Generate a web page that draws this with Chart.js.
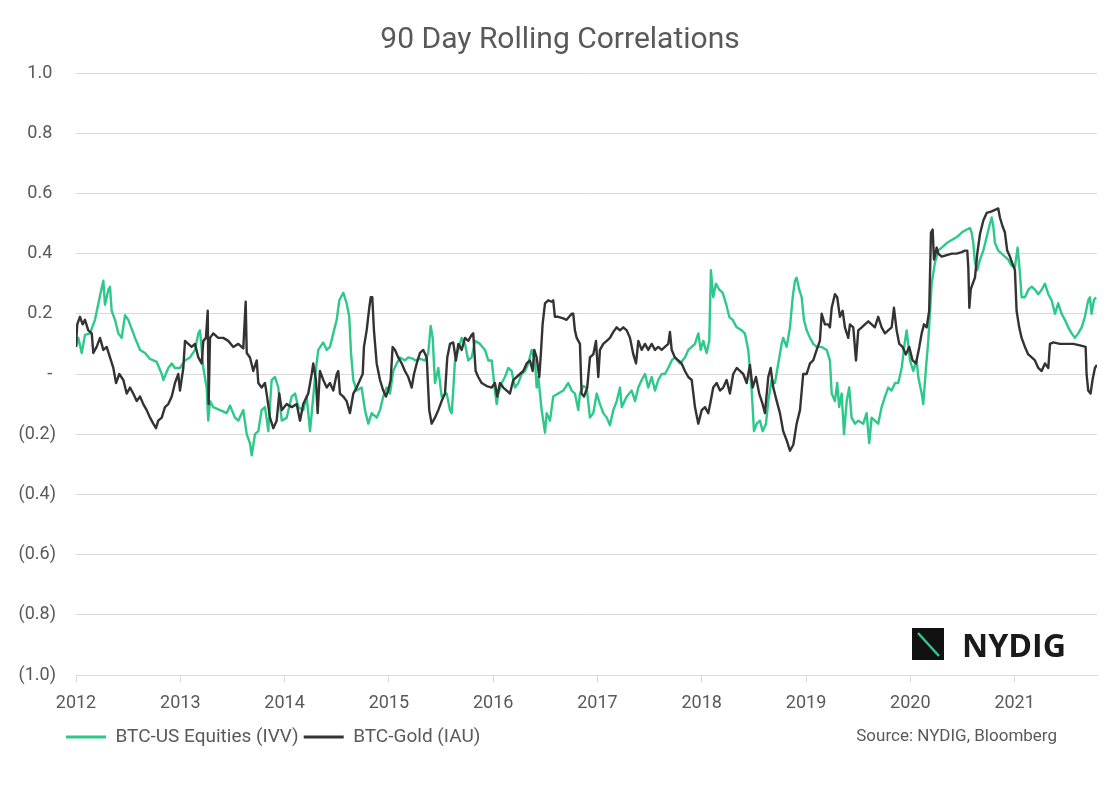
<!DOCTYPE html>
<html>
<head>
<meta charset="utf-8">
<script src="https://cdn.jsdelivr.net/npm/chart.js@4.4.0/dist/chart.umd.min.js"></script>
<style>
  html, body { margin: 0; padding: 0; background: #ffffff; }
  #wrap { width: 1120px; height: 798px; }
</style>
</head>
<body>
<div id="wrap"><canvas id="c" width="1120" height="798"></canvas></div>
<script>
// ---------------- DATA ----------------
const chartTitle = "90 Day Rolling Correlations";
const seriesNames = ["BTC-US Equities (IVV)", "BTC-Gold (IAU)"];
const sourceNote = "Source: NYDIG, Bloomberg";
const yearTicks = [2012, 2013, 2014, 2015, 2016, 2017, 2018, 2019, 2020, 2021];

const equitiesYears = [
  2012.000, 2012.022, 2012.055, 2012.086, 2012.134, 2012.182, 2012.230, 2012.262, 2012.278, 2012.310,
  2012.326, 2012.342, 2012.374, 2012.406, 2012.438, 2012.470, 2012.501, 2012.534, 2012.566, 2012.614,
  2012.662, 2012.710, 2012.774, 2012.822, 2012.837, 2012.885, 2012.918, 2012.949, 2012.997, 2013.045,
  2013.093, 2013.141, 2013.173, 2013.189, 2013.221, 2013.253, 2013.268, 2013.285, 2013.316, 2013.381,
  2013.445, 2013.477, 2013.524, 2013.556, 2013.604, 2013.637, 2013.668, 2013.685, 2013.716, 2013.748,
  2013.780, 2013.812, 2013.844, 2013.876, 2013.908, 2013.940, 2013.973, 2014.020, 2014.068, 2014.100,
  2014.131, 2014.179, 2014.212, 2014.244, 2014.275, 2014.292, 2014.323, 2014.371, 2014.404, 2014.435,
  2014.467, 2014.500, 2014.525, 2014.563, 2014.595, 2014.620, 2014.637, 2014.659, 2014.691, 2014.739,
  2014.771, 2014.803, 2014.835, 2014.883, 2014.915, 2014.946, 2014.979, 2015.011, 2015.042, 2015.075,
  2015.107, 2015.154, 2015.186, 2015.234, 2015.250, 2015.298, 2015.346, 2015.378, 2015.401, 2015.420,
  2015.442, 2015.474, 2015.506, 2015.554, 2015.586, 2015.602, 2015.617, 2015.634, 2015.666, 2015.698,
  2015.730, 2015.761, 2015.794, 2015.826, 2015.874, 2015.922, 2015.953, 2015.986, 2016.017, 2016.034,
  2016.049, 2016.082, 2016.113, 2016.145, 2016.177, 2016.209, 2016.241, 2016.273, 2016.305, 2016.337,
  2016.369, 2016.401, 2016.417, 2016.433, 2016.465, 2016.497, 2016.513, 2016.545, 2016.576, 2016.624,
  2016.672, 2016.720, 2016.753, 2016.784, 2016.816, 2016.832, 2016.864, 2016.897, 2016.928, 2016.960,
  2016.993, 2017.024, 2017.056, 2017.089, 2017.120, 2017.152, 2017.185, 2017.216, 2017.233, 2017.281,
  2017.329, 2017.360, 2017.392, 2017.424, 2017.456, 2017.487, 2017.520, 2017.552, 2017.583, 2017.616,
  2017.647, 2017.679, 2017.712, 2017.743, 2017.791, 2017.839, 2017.871, 2017.904, 2017.935, 2017.967,
  2017.990, 2018.015, 2018.047, 2018.072, 2018.088, 2018.110, 2018.136, 2018.168, 2018.200, 2018.232,
  2018.264, 2018.296, 2018.335, 2018.383, 2018.414, 2018.446, 2018.479, 2018.501, 2018.527, 2018.558,
  2018.584, 2018.616, 2018.638, 2018.670, 2018.702, 2018.734, 2018.766, 2018.781, 2018.814, 2018.846,
  2018.872, 2018.894, 2018.910, 2018.935, 2018.958, 2018.980, 2019.006, 2019.038, 2019.069, 2019.102,
  2019.150, 2019.198, 2019.229, 2019.246, 2019.277, 2019.299, 2019.318, 2019.342, 2019.364, 2019.390,
  2019.414, 2019.437, 2019.469, 2019.501, 2019.549, 2019.581, 2019.606, 2019.629, 2019.660, 2019.692,
  2019.725, 2019.757, 2019.788, 2019.821, 2019.853, 2019.884, 2019.917, 2019.949, 2019.965, 2019.997,
  2020.028, 2020.061, 2020.076, 2020.109, 2020.124, 2020.150, 2020.172, 2020.205, 2020.236, 2020.268,
  2020.301, 2020.349, 2020.397, 2020.445, 2020.493, 2020.541, 2020.572, 2020.588, 2020.604, 2020.620,
  2020.642, 2020.668, 2020.700, 2020.732, 2020.764, 2020.780, 2020.796, 2020.812, 2020.843, 2020.876,
  2020.907, 2020.939, 2020.971, 2021.003, 2021.029, 2021.051, 2021.067, 2021.099, 2021.131, 2021.164,
  2021.195, 2021.227, 2021.259, 2021.291, 2021.323, 2021.355, 2021.387, 2021.418, 2021.451, 2021.482,
  2021.514, 2021.547, 2021.578, 2021.610, 2021.643, 2021.674, 2021.706, 2021.722, 2021.738, 2021.760,
  2021.780
];
const equitiesValues = [
  0.09, 0.12, 0.07, 0.13, 0.135, 0.18, 0.26, 0.31, 0.23, 0.28,
  0.29, 0.21, 0.18, 0.135, 0.12, 0.195, 0.18, 0.15, 0.12, 0.08,
  0.07, 0.05, 0.04, 0.0, -0.02, 0.02, 0.035, 0.02, 0.02, 0.045,
  0.055, 0.08, 0.135, 0.145, 0.02, -0.045, -0.155, -0.09, -0.11, -0.12,
  -0.13, -0.105, -0.145, -0.155, -0.12, -0.2, -0.23, -0.27, -0.2, -0.19,
  -0.12, -0.11, -0.19, -0.02, -0.01, -0.045, -0.155, -0.145, -0.075, -0.065,
  -0.11, -0.12, -0.075, -0.19, -0.075, -0.01, 0.08, 0.105, 0.08, 0.09,
  0.135, 0.18, 0.245, 0.27, 0.235, 0.19, 0.07, -0.02, -0.055, -0.045,
  -0.12, -0.165, -0.13, -0.145, -0.12, -0.075, -0.045, -0.065, 0.01, 0.035,
  0.055, 0.045, 0.055, 0.05, 0.045, 0.05, 0.045, 0.07, 0.16, 0.12,
  -0.03, 0.02, -0.075, -0.065, -0.12, -0.13, -0.055, 0.045, 0.08, 0.12,
  0.1, 0.045, 0.055, 0.11, 0.1, 0.08, 0.045, 0.045, -0.055, -0.1,
  -0.065, -0.03, -0.01, 0.02, 0.01, -0.045, -0.03, 0.0, 0.01, 0.035,
  0.08, 0.045, -0.045, -0.01, -0.12, -0.195, -0.13, -0.155, -0.075, -0.065,
  -0.055, -0.03, -0.055, -0.065, -0.12, -0.065, -0.04, -0.045, -0.145, -0.13,
  -0.065, -0.1, -0.13, -0.145, -0.17, -0.12, -0.09, -0.045, -0.11, -0.075,
  -0.055, -0.09, -0.045, -0.02, 0.0, -0.045, -0.01, -0.055, -0.02, 0.0,
  0.0, 0.02, 0.045, 0.055, 0.035, 0.055, 0.08, 0.09, 0.1, 0.135,
  0.08, 0.11, 0.07, 0.11, 0.345, 0.255, 0.3, 0.28, 0.27, 0.235,
  0.19, 0.18, 0.155, 0.145, 0.135, 0.08, -0.055, -0.19, -0.165, -0.155,
  -0.19, -0.165, -0.09, -0.02, -0.03, 0.035, 0.1, 0.12, 0.09, 0.155,
  0.255, 0.31, 0.32, 0.28, 0.255, 0.18, 0.145, 0.12, 0.1, 0.09,
  0.09, 0.08, 0.045, -0.065, -0.09, -0.03, -0.11, -0.065, -0.2, -0.09,
  -0.045, -0.145, -0.165, -0.155, -0.165, -0.13, -0.23, -0.145, -0.155, -0.165,
  -0.11, -0.075, -0.045, -0.055, -0.03, -0.03, 0.02, 0.11, 0.145, 0.045,
  0.01, 0.045, -0.01, -0.065, -0.1, 0.02, 0.11, 0.3, 0.37, 0.41,
  0.42, 0.435, 0.445, 0.455, 0.47, 0.48, 0.485, 0.47, 0.435, 0.37,
  0.345, 0.38, 0.41, 0.455, 0.5, 0.52, 0.49, 0.435, 0.41, 0.4,
  0.39, 0.38, 0.36, 0.355, 0.42, 0.335, 0.255, 0.255, 0.28, 0.29,
  0.28, 0.265, 0.28, 0.3, 0.265, 0.245, 0.2, 0.235, 0.2, 0.18,
  0.155, 0.135, 0.12, 0.135, 0.155, 0.19, 0.245, 0.255, 0.2, 0.245,
  0.255
];

const goldYears = [
  2012.000, 2012.012, 2012.038, 2012.064, 2012.086, 2012.118, 2012.151, 2012.166, 2012.198, 2012.230,
  2012.262, 2012.294, 2012.326, 2012.358, 2012.384, 2012.415, 2012.454, 2012.486, 2012.518, 2012.549,
  2012.582, 2012.614, 2012.645, 2012.678, 2012.710, 2012.741, 2012.767, 2012.789, 2012.822, 2012.853,
  2012.885, 2012.918, 2012.949, 2012.981, 2012.997, 2013.029, 2013.045, 2013.077, 2013.109, 2013.141,
  2013.173, 2013.205, 2013.221, 2013.246, 2013.263, 2013.272, 2013.285, 2013.316, 2013.364, 2013.412,
  2013.460, 2013.508, 2013.556, 2013.604, 2013.627, 2013.637, 2013.668, 2013.700, 2013.733, 2013.748,
  2013.780, 2013.812, 2013.828, 2013.860, 2013.892, 2013.924, 2013.949, 2013.973, 2014.020, 2014.068,
  2014.116, 2014.148, 2014.179, 2014.227, 2014.260, 2014.275, 2014.301, 2014.317, 2014.339, 2014.371,
  2014.404, 2014.435, 2014.467, 2014.500, 2014.515, 2014.531, 2014.563, 2014.595, 2014.627, 2014.659,
  2014.691, 2014.723, 2014.749, 2014.761, 2014.787, 2014.812, 2014.826, 2014.841, 2014.857, 2014.883,
  2014.915, 2014.946, 2014.972, 2014.994, 2015.017, 2015.036, 2015.059, 2015.090, 2015.123, 2015.154,
  2015.186, 2015.219, 2015.241, 2015.267, 2015.298, 2015.330, 2015.363, 2015.387, 2015.410, 2015.442,
  2015.474, 2015.506, 2015.538, 2015.560, 2015.586, 2015.617, 2015.643, 2015.666, 2015.698, 2015.730,
  2015.761, 2015.794, 2015.809, 2015.832, 2015.857, 2015.890, 2015.938, 2015.986, 2016.017, 2016.039,
  2016.065, 2016.097, 2016.130, 2016.161, 2016.193, 2016.225, 2016.257, 2016.289, 2016.321, 2016.353,
  2016.379, 2016.394, 2016.417, 2016.442, 2016.458, 2016.474, 2016.497, 2016.528, 2016.561, 2016.576,
  2016.592, 2016.624, 2016.672, 2016.704, 2016.753, 2016.768, 2016.784, 2016.801, 2016.832, 2016.848,
  2016.871, 2016.902, 2016.928, 2016.960, 2016.986, 2017.008, 2017.024, 2017.056, 2017.089, 2017.120,
  2017.152, 2017.185, 2017.216, 2017.248, 2017.281, 2017.312, 2017.344, 2017.370, 2017.392, 2017.424,
  2017.456, 2017.487, 2017.520, 2017.552, 2017.583, 2017.616, 2017.647, 2017.679, 2017.695, 2017.712,
  2017.743, 2017.775, 2017.807, 2017.839, 2017.871, 2017.904, 2017.935, 2017.967, 2018.000, 2018.031,
  2018.063, 2018.086, 2018.110, 2018.143, 2018.175, 2018.206, 2018.239, 2018.270, 2018.302, 2018.335,
  2018.366, 2018.398, 2018.431, 2018.462, 2018.488, 2018.520, 2018.551, 2018.584, 2018.606, 2018.638,
  2018.661, 2018.686, 2018.719, 2018.750, 2018.781, 2018.814, 2018.846, 2018.878, 2018.910, 2018.942,
  2018.973, 2019.006, 2019.038, 2019.069, 2019.102, 2019.133, 2019.150, 2019.181, 2019.213, 2019.229,
  2019.246, 2019.277, 2019.299, 2019.325, 2019.351, 2019.373, 2019.405, 2019.421, 2019.453, 2019.479,
  2019.501, 2019.534, 2019.565, 2019.597, 2019.629, 2019.660, 2019.692, 2019.725, 2019.757, 2019.788,
  2019.821, 2019.843, 2019.869, 2019.894, 2019.926, 2019.957, 2019.989, 2020.022, 2020.054, 2020.086,
  2020.109, 2020.131, 2020.157, 2020.181, 2020.198, 2020.214, 2020.227, 2020.253, 2020.268, 2020.301,
  2020.349, 2020.397, 2020.445, 2020.493, 2020.524, 2020.546, 2020.556, 2020.566, 2020.579, 2020.598,
  2020.620, 2020.642, 2020.668, 2020.700, 2020.732, 2020.780, 2020.812, 2020.843, 2020.859, 2020.885,
  2020.907, 2020.929, 2020.955, 2020.981, 2021.003, 2021.019, 2021.044, 2021.067, 2021.099, 2021.131,
  2021.164, 2021.195, 2021.227, 2021.259, 2021.291, 2021.323, 2021.339, 2021.371, 2021.435, 2021.499,
  2021.563, 2021.627, 2021.681, 2021.690, 2021.706, 2021.728, 2021.747, 2021.770, 2021.789
];
const goldValues = [
  0.09, 0.165, 0.19, 0.165, 0.18, 0.145, 0.135, 0.07, 0.09, 0.12,
  0.08, 0.09, 0.055, 0.02, -0.03, 0.0, -0.02, -0.065, -0.045, -0.065,
  -0.09, -0.075, -0.1, -0.12, -0.145, -0.165, -0.18, -0.155, -0.145, -0.11,
  -0.1, -0.075, -0.03, 0.0, -0.055, 0.02, 0.11, 0.1, 0.09, 0.1,
  0.055, 0.035, 0.11, 0.12, 0.21, -0.1, 0.12, 0.135, 0.12, 0.12,
  0.11, 0.09, 0.1, 0.085, 0.24, 0.07, 0.055, 0.01, 0.045, -0.03,
  -0.045, -0.03, -0.065, -0.145, -0.18, -0.155, -0.065, -0.12, -0.1, -0.11,
  -0.1, -0.155, -0.1, -0.065, 0.0, 0.035, -0.02, -0.13, 0.01, -0.02,
  -0.045, -0.03, -0.055, 0.0, 0.01, -0.065, -0.075, -0.09, -0.13, -0.065,
  -0.045, -0.02, 0.0, 0.09, 0.145, 0.22, 0.255, 0.255, 0.145, 0.035,
  -0.02, -0.055, -0.075, -0.055, -0.02, 0.09, 0.08, 0.055, 0.035, 0.01,
  -0.01, -0.045, 0.0, 0.035, 0.07, 0.08, 0.055, -0.12, -0.165, -0.145,
  -0.12, -0.09, -0.065, 0.055, 0.1, 0.105, 0.045, 0.1, 0.08, 0.12,
  0.11, 0.13, 0.135, 0.01, -0.01, -0.03, -0.04, -0.045, -0.03, -0.075,
  -0.03, -0.045, -0.055, -0.065, -0.02, -0.01, 0.0, 0.01, 0.035, 0.045,
  0.01, 0.08, 0.055, -0.01, 0.07, 0.165, 0.235, 0.245, 0.24, 0.245,
  0.19, 0.19, 0.185, 0.18, 0.2, 0.2, 0.145, 0.12, 0.1, -0.065,
  -0.075, -0.045, 0.055, 0.065, 0.11, -0.01, 0.08, 0.1, 0.11, 0.12,
  0.14, 0.155, 0.145, 0.155, 0.145, 0.12, 0.065, 0.035, 0.11, 0.08,
  0.1, 0.08, 0.1, 0.08, 0.09, 0.08, 0.09, 0.1, 0.14, 0.08,
  0.055, 0.045, 0.035, 0.01, -0.01, -0.02, -0.11, -0.165, -0.12, -0.11,
  -0.13, -0.09, -0.045, -0.03, -0.055, -0.045, -0.02, -0.065, 0.0, 0.02,
  0.01, 0.0, -0.03, 0.03, -0.045, -0.01, -0.065, -0.1, -0.13, -0.01,
  0.02, -0.045, -0.09, -0.13, -0.19, -0.22, -0.255, -0.235, -0.165, -0.12,
  0.0, 0.0, 0.035, 0.045, 0.08, 0.11, 0.2, 0.165, 0.165, 0.155,
  0.22, 0.265, 0.255, 0.19, 0.21, 0.155, 0.12, 0.165, 0.155, 0.045,
  0.145, 0.155, 0.165, 0.175, 0.165, 0.155, 0.19, 0.155, 0.135, 0.145,
  0.155, 0.22, 0.145, 0.1, 0.09, 0.065, 0.09, 0.045, 0.035, 0.09,
  0.135, 0.165, 0.155, 0.21, 0.47, 0.48, 0.38, 0.42, 0.4, 0.39,
  0.395, 0.4, 0.4, 0.405, 0.41, 0.41, 0.355, 0.22, 0.28, 0.3,
  0.32, 0.4, 0.465, 0.51, 0.535, 0.54, 0.545, 0.55, 0.52, 0.49,
  0.47, 0.41, 0.39, 0.365, 0.345, 0.21, 0.155, 0.12, 0.09, 0.065,
  0.055, 0.045, 0.02, 0.01, 0.035, 0.02, 0.1, 0.105, 0.1, 0.1,
  0.1, 0.095, 0.09, 0.0, -0.055, -0.065, -0.02, 0.02, 0.03
];

const yMin = -1.0, yMax = 1.0, yStep = 0.2;
const xMin = 2012, xMax = 2021.79;

// ---------------- STYLE ----------------
const GREEN = '#2ec98a';
const DARK = '#333333';
const TEXT = '#595959';
const GRID = '#d9d9d9';
const FONT = "Roboto, 'Liberation Sans', sans-serif";

function toPoints(xs, ys) { return xs.map((x, i) => ({ x: x, y: ys[i] })); }

function fmtY(v) {
  const r = Math.round(v * 10) / 10;
  if (Math.abs(r) < 1e-9) return '-\u2009';
  if (r < 0) return '(' + (-r).toFixed(1) + ')';
  return r.toFixed(1) + '\u2009';
}

const LEGEND_PAD = 5;

const decorPlugin = {
  id: 'decor',
  afterLayout(chart) {
    const lg = chart.legend;
    if (lg) {
      const w = lg.right - lg.left, h = lg.bottom - lg.top;
      const left = 66 - LEGEND_PAD;
      const top = 737 - LEGEND_PAD - 9.5;
      lg.left = left; lg.right = left + w;
      lg.top = top; lg.bottom = top + h;
    }
    const tb = chart.titleBlock;
    if (tb) {
      tb.left = 0; tb.right = chart.width; tb.width = chart.width;
    }
  },
  afterDraw(chart) {
    const ctx = chart.ctx;
    ctx.save();
    // source note
    ctx.font = "17px " + FONT;
    ctx.fillStyle = TEXT;
    ctx.textAlign = 'right';
    ctx.textBaseline = 'middle';
    ctx.fillText(sourceNote, 1057, 737);
    // NYDIG logo
    const bx = 912, by = 628, bs = 32;
    ctx.fillStyle = '#111111';
    ctx.fillRect(bx, by, bs, bs);
    ctx.strokeStyle = GREEN;
    ctx.lineWidth = 2.5;
    ctx.beginPath();
    ctx.moveTo(bx + 6, by + 5);
    ctx.lineTo(bx + 27, by + 28);
    ctx.stroke();
    ctx.fillStyle = '#1a1a1a';
    ctx.textAlign = 'left';
    ctx.textBaseline = 'alphabetic';
    let fs = 36;
    ctx.font = "bold " + fs + "px 'Open Sans', Lato, sans-serif";
    const wt = ctx.measureText('NYDIG').width;
    fs = fs * 104 / wt;
    ctx.font = "bold " + fs.toFixed(1) + "px 'Open Sans', Lato, sans-serif";
    ctx.fillText('NYDIG', 962, 657);
    ctx.restore();
  }
};

new Chart(document.getElementById('c'), {
  type: 'line',
  data: {
    datasets: [
      {
        label: seriesNames[1],
        data: toPoints(goldYears, goldValues),
        borderColor: DARK,
        backgroundColor: DARK,
        borderWidth: 2.4,
        pointRadius: 0,
        tension: 0,
        borderJoinStyle: 'round'
      },
      {
        label: seriesNames[0],
        data: toPoints(equitiesYears, equitiesValues),
        borderColor: GREEN,
        backgroundColor: GREEN,
        borderWidth: 2.4,
        pointRadius: 0,
        tension: 0,
        borderJoinStyle: 'round'
      }
    ]
  },
  options: {
    responsive: false,
    animation: false,
    devicePixelRatio: 1,
    layout: { padding: { left: 0, right: 23, top: 0, bottom: 45 } },
    scales: {
      x: {
        type: 'linear',
        min: xMin,
        max: xMax,
        afterBuildTicks(scale) { scale.ticks = yearTicks.map(v => ({ value: v })); },
        afterFit(scale) { scale.height = 44; },
        ticks: {
          autoSkip: false,
          maxRotation: 0,
          includeBounds: false,
          padding: 11,
          color: TEXT,
          font: { family: FONT, size: 18 },
          callback: (v) => String(v)
        },
        grid: { drawOnChartArea: false, drawTicks: true, tickLength: 7, color: GRID, lineWidth: 1 },
        border: { display: true, color: GRID, width: 1 }
      },
      y: {
        min: yMin,
        max: yMax,
        afterFit(scale) { scale.width = 76; },
        ticks: {
          stepSize: yStep,
          padding: 20,
          color: TEXT,
          font: { family: FONT, size: 18 },
          callback: (v) => fmtY(v)
        },
        grid: { color: GRID, lineWidth: 1, drawTicks: false },
        border: { display: false }
      }
    },
    plugins: {
      title: {
        display: true,
        text: chartTitle,
        color: TEXT,
        font: { family: FONT, size: 30, weight: 'normal', lineHeight: 1.2 },
        padding: { top: 22, bottom: 15 }
      },
      legend: {
        display: true,
        position: 'bottom',
        align: 'start',
        labels: {
          boxWidth: 40,
          boxHeight: 3,
          padding: LEGEND_PAD,
          color: TEXT,
          font: { family: FONT, size: 19 },
          sort: (a, b) => b.datasetIndex - a.datasetIndex,
          generateLabels(chart) {
            const items = Chart.defaults.plugins.legend.labels.generateLabels(chart);
            items.forEach(it => { it.lineWidth = 0; it.fillStyle = it.strokeStyle; });
            return items;
          }
        }
      },
      tooltip: { enabled: false }
    }
  },
  plugins: [decorPlugin]
});
</script>
</body>
</html>
